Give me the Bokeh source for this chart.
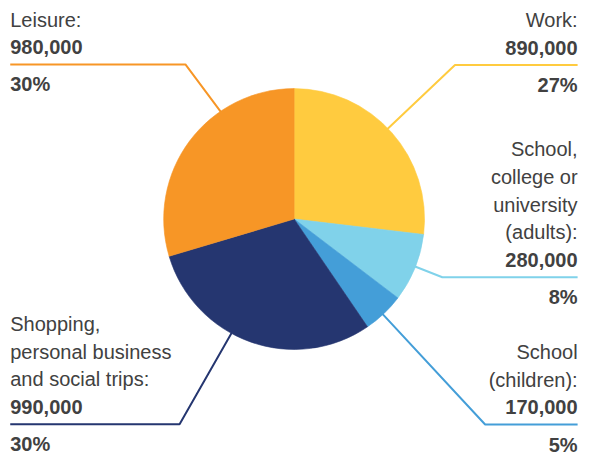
import math
from bokeh.plotting import figure
from bokeh.models import Range1d, ColumnDataSource
from bokeh.core.properties import value
from bokeh.embed import file_html
from bokeh.resources import INLINE

# ---- data ----
categories = ["Work", "School, college or university (adults)", "School (children)",
              "Shopping, personal business and social trips", "Leisure"]
values = [890000, 280000, 170000, 990000, 980000]
colors = ["#FFCB3F", "#80D2EA", "#449ED8", "#253670", "#F79626"]
label_lines = [["Work:"],
               ["School,", "college or", "university", "(adults):"],
               ["School", "(children):"],
               ["Shopping,", "personal business", "and social trips:"],
               ["Leisure:"]]

# ---- layout (reference pixel space, 597 x 475, y down) ----
RW, RH = 597, 475
W, H = 581, 459
TEXT_SHIFT = 7.0   # compensate renderer baseline offset
def fy(Y):
    return RH - Y
def ty(Y):
    return RH - (Y - TEXT_SHIFT)

CX, CY, R = 301.7, 229.0, 134.0
# side, number baseline, elbow x, edge angle (deg clockwise from top)
layout = [
    ("right", 56.5, 467, 45.4),
    ("right", 279.0, 454, 111.8),
    ("right", 433.3, 498, 137.6),
    ("left", 433.0, 184, 208.2),
    ("left", 56.0, 190, 326.4),
]
LEFT_X, RIGHT_X = 10, 593
PITCH = 29
TEXT_COLOR = "#414141"
FONT = "Liberation Sans"
FSIZE = "20px"

total = float(sum(values))
fracs = [v / total for v in values]
starts, ends = [], []
c = 0.0
for f in fracs:
    starts.append(math.pi / 2 - 2 * math.pi * c)
    c += f
    ends.append(math.pi / 2 - 2 * math.pi * c)

p = figure(width=W, height=H, x_range=Range1d(0, RW), y_range=Range1d(-6, RH),
           output_backend="svg", toolbar_location=None, min_border=0,
           x_axis_location=None, y_axis_location=None)
p.grid.visible = False
p.outline_line_color = None
p.background_fill_color = "white"
p.border_fill_color = "white"

# leader lines (drawn under pie)
for i, (side, B, ex, ang) in enumerate(layout):
    ly = B + 11
    outer = LEFT_X if side == "left" else RIGHT_X
    a = math.radians(ang)
    px = CX + 0.92 * R * math.sin(a)
    py = CY - 0.92 * R * math.cos(a)
    p.line([outer, ex, px], [fy(ly), fy(ly), fy(py)],
           line_color=colors[i], line_width=2)

# pie
src = ColumnDataSource(dict(cat=categories, val=values, start=starts, end=ends, color=colors))
p.wedge(x=CX, y=fy(CY), radius=R, start_angle="start", end_angle="end",
        direction="clock", fill_color="color", line_color="color", line_width=0.6, source=src)

# labels
for side in ("left", "right"):
    nx, ny, nt = [], [], []
    bx, by, bt = [], [], []
    for i, (sd, B, ex, ang) in enumerate(layout):
        if sd != side:
            continue
        X = LEFT_X if side == "left" else RIGHT_X
        lines = label_lines[i]
        n = len(lines)
        for k, t in enumerate(lines):
            nx.append(X); ny.append(ty(B - PITCH * (n - k))); nt.append(t)
        bx.append(X); by.append(ty(B)); bt.append(f"{values[i]:,}")
        bx.append(X); by.append(ty(B + 39)); bt.append(f"{round(fracs[i] * 100)}%")
    p.text(x=nx, y=ny, text=nt, text_align=side, text_baseline="alphabetic",
           text_font=value(FONT), text_font_size=FSIZE, text_color=TEXT_COLOR)
    p.text(x=bx, y=by, text=bt, text_align=side, text_baseline="alphabetic",
           text_font=value(FONT), text_font_size=FSIZE, text_font_style="bold",
           text_color=TEXT_COLOR)

open("out.html", "w").write(file_html(p, INLINE))
